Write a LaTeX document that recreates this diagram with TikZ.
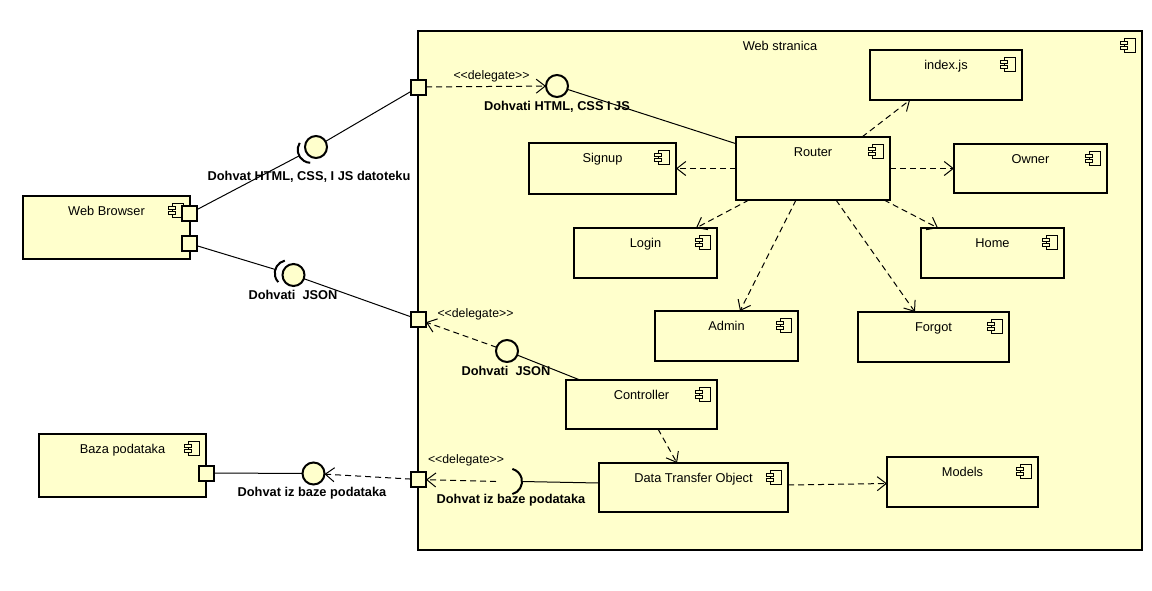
\documentclass[tikz,border=0pt]{standalone}
\usepackage{fontspec}
\setmainfont{Liberation Sans}
\usetikzlibrary{arrows.meta,calc}
\definecolor{compfill}{RGB}{255,255,204}

\tikzset{
  box/.style={draw, line width=2pt, fill=compfill, anchor=north west,
    inner sep=0pt, outer sep=0pt},
  port/.style={draw, line width=2pt, fill=compfill, minimum size=15pt,
    inner sep=0pt, outer sep=0pt},
  ball/.style={circle, draw, line width=2pt, fill=compfill, minimum size=22pt,
    inner sep=0pt, outer sep=0pt},
  icon/.style={draw, line width=1pt, fill=compfill},
  wire/.style={line width=1pt},
  dep/.style={line width=1pt, dash pattern=on 6pt off 4pt,
    -{Straight Barb[length=9pt,width=14pt]}},
  socket/.style={line width=2pt},
  title/.style={font=\fontsize{12.8}{14}\selectfont, anchor=base, inner sep=0pt},
  iface/.style={font=\fontsize{12.8}{14}\selectfont\bfseries, inner sep=0pt},
  stereo/.style={font=\fontsize{12.3}{13}\selectfont, inner sep=0pt},
}

% component box: name, left, top, right, bottom, title
\newcommand\umlcomp[6]{%
  \node[box, minimum width={(#4-#2)*1pt}, minimum height={(#5-#3)*1pt}]
    (#1) at (#2,#3) {};
  \node[title] (#1-title) at ($(#1.north)+(0,19)$) {#6};
  \draw[icon] ($(#1.north east)+(-18,7)$) rectangle ++(11,14);
  \draw[icon] ($(#1.north east)+(-22,10)$) rectangle ++(7,3);
  \draw[icon] ($(#1.north east)+(-22,15)$) rectangle ++(7,3);
}

% required-interface socket in front of a ball, facing a port
\newcommand\umlsocket[3]{% socket name, ball, port
  \coordinate (#1) at ($(#2)!6pt!(#3)$);
  \draw[wire] (#3) -- ($(#1)!13pt!(#3)$);
  \draw[socket] let \p1=($(#3)-(#2)$), \n1={atan2(\y1,\x1)} in
    ($(#1)+(\n1-60:13pt)$) arc[start angle=\n1-60, end angle=\n1+60, radius=13pt];
}

\newcommand\delegate{<\kern0pt<delegate>\kern0pt>}

\begin{document}
\begin{tikzpicture}[x=1pt,y=-1pt]
\useasboundingbox (0,0) rectangle (1152,590);

% components
\umlcomp{web}{418}{31}{1142}{550}{Web stranica}
\umlcomp{indexjs}{870}{50}{1022}{100}{index.js}
\umlcomp{router}{736}{137}{890}{200}{Router}
\umlcomp{owner}{954}{144}{1107}{193}{Owner}
\umlcomp{signup}{529}{143}{676}{194}{Signup}
\umlcomp{login}{574}{228}{717}{278}{Login}
\umlcomp{home}{921}{228}{1064}{278}{Home}
\umlcomp{admin}{655}{311}{798}{361}{Admin}
\umlcomp{forgot}{858}{312}{1009}{362}{Forgot}
\umlcomp{controller}{566}{380}{717}{429}{Controller}
\umlcomp{dto}{599}{463}{788}{512}{Data Transfer Object}
\umlcomp{models}{887}{457}{1038}{507}{Models}
\umlcomp{browser}{23}{196}{190}{259}{Web Browser}
\umlcomp{baza}{39}{434}{206}{497}{Baza podataka}

% ports
\node[port] (bp1) at (189.5,213.5) {};
\node[port] (bp2) at (189.5,243.5) {};
\node[port] (wp1) at (418.5,87) {};
\node[port] (wp2) at (418.5,319.5) {};
\node[port] (wp3) at (418.5,479.5) {};
\node[port] (dbp) at (206.5,473) {};

% provided interfaces
\node[ball] (b1) at (316,147) {};
\node[ball] (b2) at (293.5,275) {};
\node[ball] (b3) at (557,86) {};
\node[ball] (b4) at (507,351) {};
\node[ball] (b5) at (313.5,473.5) {};

% assembly connectors outside
\draw[wire] (b1) -- (wp1);
\umlsocket{s1}{b1}{bp1}
\draw[wire] (b2) -- (wp2);
\umlsocket{s2}{b2}{bp2}
\draw[wire] (dbp) -- (b5);
\draw[dep] (wp3) -- (b5);

% delegation inside
\draw[dep] (wp1) -- (b3);
\draw[wire] (b3) -- (router);
\draw[dep] (b4) -- (wp2);
\draw[wire] (b4) -- (controller);
\coordinate (s3) at (509,481.5);
\draw[dep] ($(s3)+(-13,0)$) -- (wp3);
\draw[wire] ($(s3)+(13,0)$) -- ([yshift=4.5pt]dto.west);
\draw[socket] ($(s3)+(-75:13pt)$) arc[start angle=-75, end angle=75, radius=13pt];

% dependencies
\draw[dep] (router.west) -- (signup.east);
\draw[dep] (router.east) -- (owner.west);
\draw[dep] ([xshift=-28pt]router.north east) -- ([xshift=40pt]indexjs.south west);
\draw[dep] ([xshift=13pt]router.south west) -- ([xshift=-21pt]login.north east);
\draw[dep] ([xshift=60pt]router.south west) -- ([xshift=85pt]admin.north west);
\draw[dep] ([xshift=100pt]router.south west) -- ([xshift=57pt]forgot.north west);
\draw[dep] ([xshift=-6pt]router.south east) -- ([xshift=17pt]home.north west);
\draw[dep] ([xshift=92pt]controller.south west) -- ([xshift=78pt]dto.north west);
\draw[dep] ([yshift=2.5pt]dto.east) -- ([yshift=-1.5pt]models.west);

% labels
\node[iface] (l1) at (309,177) {Dohvat HTML, CSS, I JS datoteku};
\node[iface] (l2) at (293,295) {Dohvati\ \ JSON};
\node[iface] (l3) at (557,107) {Dohvati HTML, CSS I JS};
\node[iface] (l4) at (506,371) {Dohvati\ \ JSON};
\node[iface] (l5) at (312,493) {Dohvat iz baze podataka};
\node[iface] (l6) at (511,500) {Dohvat iz baze podataka};
\node[stereo] (d1) at (491.5,76) {\delegate};
\node[stereo] (d2) at (475.5,314) {\delegate};
\node[stereo] (d3) at (466,460) {\delegate};
\end{tikzpicture}
\end{document}
